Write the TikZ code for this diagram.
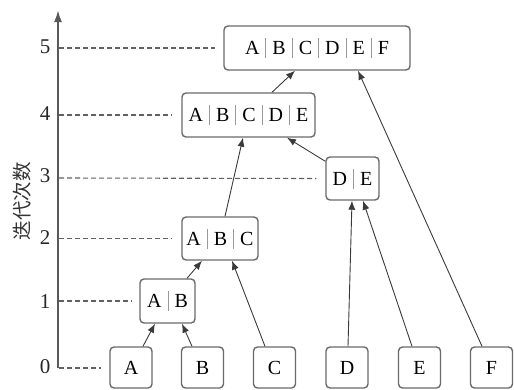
\documentclass[tikz,border=0pt]{standalone}
\usepackage{fontspec}
\setmainfont{Liberation Serif}
\newfontfamily\cjk{Noto Sans CJK SC}
\usetikzlibrary{calc,arrows.meta}
\definecolor{boxline}{HTML}{6A6A6A}
\definecolor{arrowcol}{HTML}{3A3A3A}
\newcommand{\sepbar}{\hspace{0.3em}{\color{gray!80}\rule[-0.17em]{1pt}{1.0em}}\hspace{0.3em}}
\begin{document}
\begin{tikzpicture}[x=1pt,y=-1pt,
  box/.style={draw=boxline,line width=1.4pt,rounded corners=4pt,fill=white,
    font=\fontsize{20}{22}\selectfont,inner sep=0pt,minimum height=43pt},
  leaf/.style={box,minimum width=42pt,minimum height=41pt},
  link/.style={draw=arrowcol,line width=0.9pt,-{Latex[length=9pt,width=7pt]}},
  guide/.style={draw=black!62,line width=1.1pt,dash pattern=on 5pt off 3pt},
  tick/.style={font=\fontsize{21}{23}\selectfont,text=black!85},
  axisline/.style={draw=black!65,line width=2pt,-{Latex[length=12pt,width=8pt]}}
]
\useasboundingbox (0,0) rectangle (514,389);
% nodes
\node[leaf] (A) at (131,367.5) {A};
\node[leaf] (B) at (202.5,367.5) {B};
\node[leaf] (C) at (274.5,367.5) {C};
\node[leaf] (D) at (347,367.5) {D};
\node[leaf] (E) at (419.5,367.5) {E};
\node[leaf] (F) at (491.5,367.5) {F};
\node[box,minimum width=55pt,minimum height=44pt] (AB) at (167.5,301) {A\sepbar B};
\node[box,minimum width=76pt] (ABC) at (220,238.5) {A\sepbar B\sepbar C};
\node[box,minimum width=53pt] (DE) at (352.5,178.5) {D\sepbar E};
\node[box,minimum width=133pt,minimum height=44pt] (ABCDE) at (248.5,115) {A\sepbar B\sepbar C\sepbar D\sepbar E};
\node[box,minimum width=186pt,minimum height=44pt] (ABCDEF) at (317,48) {A\sepbar B\sepbar C\sepbar D\sepbar E\sepbar F};
% axis
\coordinate (O) at (58,368);
\coordinate (Top) at (58,10);
\draw[axisline] (O) -- (Top);
\node[rotate=90,font=\cjk\fontsize{19.5}{21}\selectfont,text=black!80] (ylab) at (22,201) {迭代次数};
% ticks and guides
\node[tick] (t0) at (45,367) {0};
\node[tick] (t1) at (45,302) {1};
\node[tick] (t2) at (45,238) {2};
\node[tick] (t3) at (45,176) {3};
\node[tick] (t4) at (45,114) {4};
\node[tick] (t5) at (45,47) {5};
\coordinate (g0) at (59,368);
\coordinate (g1) at (59,301);
\coordinate (g2) at (59,238.5);
\coordinate (g3) at (59,178);
\coordinate (g4) at (59,115);
\coordinate (g5) at (59,48);
\draw[guide] (g0) -- ($(A.west)+(-8,0.5)$);
\draw[guide] (g1) -- ($(AB.west)+(-8,0)$);
\draw[guide] (g2) -- ($(ABC.west)+(-9,0)$);
\draw[guide] (g3) -- ($(DE.west)+(-9,0)$);
\draw[guide] (g4) -- ($(ABCDE.west)+(-9,0)$);
\draw[guide] (g5) -- ($(ABCDEF.west)+(-8,0)$);
% connectors
\draw[link] ($(A.north)+(12,0)$) -- ($(AB.south)+(-12.5,0)$);
\draw[link] ($(B.north)+(-10.5,0)$) -- ($(AB.south)+(14.5,0)$);
\draw[link] ($(AB.north)+(19.5,0)$) -- ($(ABC.south)+(-18,0)$);
\draw[link] ($(C.north)+(-9.5,0)$) -- ($(ABC.south)+(12,0)$);
\draw[link] ($(ABC.north)+(5,0)$) -- ($(ABCDE.south)+(-5.5,0)$);
\draw[link] ($(DE.north west)+(0,5)$) -- ($(ABCDE.south)+(38.5,0)$);
\draw[link] ($(ABCDE.north)+(23.5,0)$) -- ($(ABCDEF.south)+(-22,0)$);
\draw[link] ($(F.north)+(-9.5,0)$) -- ($(ABCDEF.south)+(41,0)$);
\draw[link] ($(D.north)+(1,0)$) -- ($(DE.south)+(-0.5,0)$);
\draw[link] ($(E.north)+(-7.5,0)$) -- ($(DE.south)+(10.5,0)$);
\end{tikzpicture}
\end{document}
